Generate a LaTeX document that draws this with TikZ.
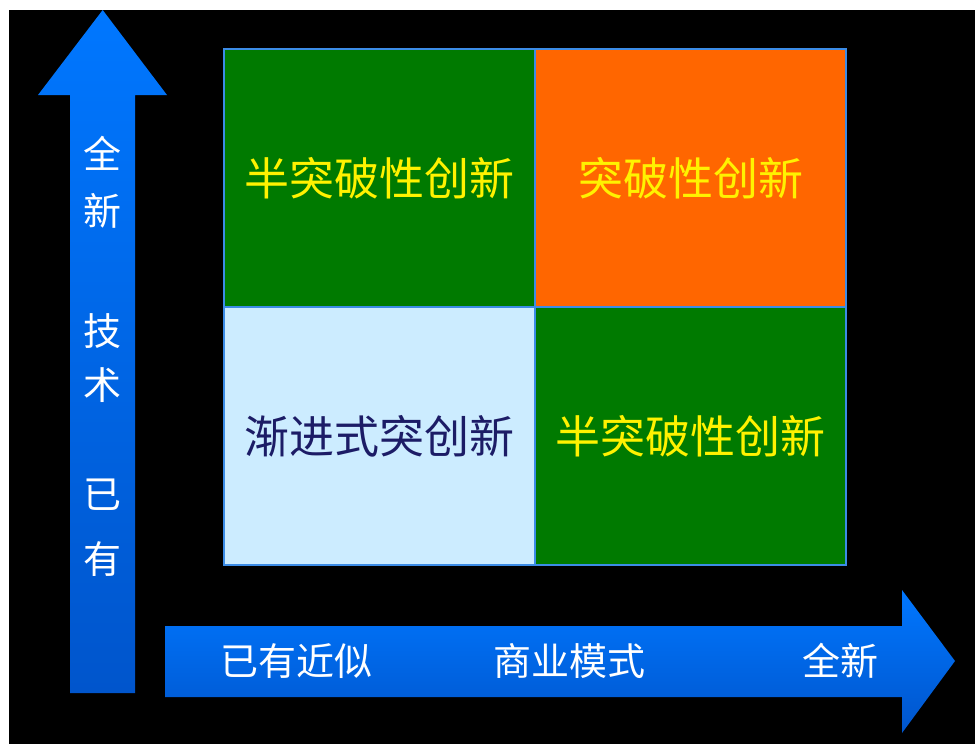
\documentclass[tikz,border=0pt]{standalone}
\usepackage{fontspec}
\newfontfamily\cjk{Noto Sans CJK SC}
\usetikzlibrary{positioning}
\definecolor{cellgreen}{HTML}{007A00}
\definecolor{cellorange}{HTML}{FF6600}
\definecolor{cellblue}{HTML}{CCECFF}
\definecolor{cellline}{HTML}{3C8CE6}
\definecolor{arrowtop}{HTML}{0077FF}
\definecolor{arrowbot}{HTML}{0055CC}
\definecolor{navytext}{HTML}{1C1C66}

\begin{document}
\begin{tikzpicture}[x=1pt,y=-1pt,
    cell/.style={draw=cellline, line width=1.2pt, outer sep=0pt, inner sep=0pt,
      minimum width=311pt, minimum height=258pt, font=\cjk\fontsize{45}{45}\selectfont},
    axislabel/.style={text=white, inner sep=0pt, font=\cjk\fontsize{38}{38}\selectfont},
    axisarrow/.style={top color=arrowtop, bottom color=arrowbot, draw=none}]
    % background
    \fill [white] (0,0) rectangle (975,744);
    \fill [black] (9,10) rectangle (975,744);
    % arrows
    \shade [axisarrow] (70,693) -- (70,95) -- (38,95) -- (102.7,10) -- (167,95)
        -- (135,95) -- (135,693) -- cycle;
    \shade [axisarrow] (165,626) -- (902,626) -- (902,590) -- (955,661) -- (902,733)
        -- (902,697) -- (165,697) -- cycle;
    % vertical labels
    \node [axislabel] (v1) at (102,153) {全};
    \node [axislabel] (v2) at (102,211) {新};
    \node [axislabel] (v3) at (102,331) {技};
    \node [axislabel] (v4) at (102,385) {术};
    \node [axislabel] (v5) at (102,495) {已};
    \node [axislabel] (v6) at (102,559) {有};
    % horizontal labels
    \node [axislabel] (h1) at (296,661) {已有近似};
    \node [axislabel] (h2) at (569,661) {商业模式};
    \node [axislabel] (h3) at (840,661) {全新};
    % matrix
    \node [cell, fill=cellgreen, text=yellow] (tl) at (379.5,178) {半突破性创新};
    \node [cell, fill=cellorange, text=yellow, right=0pt of tl] (tr) {突破性创新};
    \node [cell, fill=cellblue, text=navytext, below=0pt of tl] (bl) {渐进式突创新};
    \node [cell, fill=cellgreen, text=yellow, right=0pt of bl] (br) {半突破性创新};
\end{tikzpicture}
\end{document}
